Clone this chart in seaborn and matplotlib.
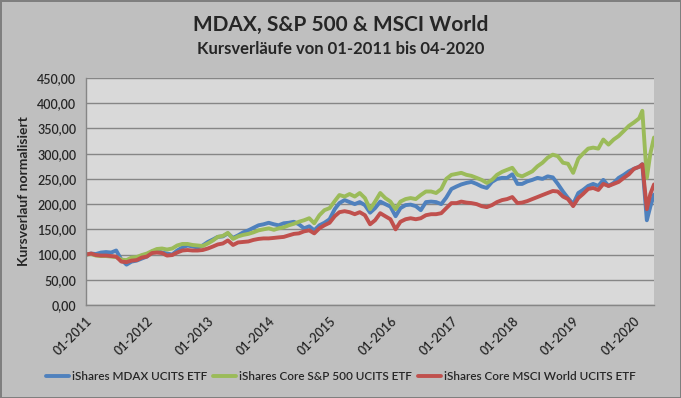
import pandas as pd
import numpy as np
import matplotlib
matplotlib.use("Agg")
import matplotlib.pyplot as plt
import matplotlib.dates as mdates
import seaborn as sns

# Datenpunkte: Monatsanfang 01-2011 .. 02-2020, danach Corona-Crash
monate = list(pd.date_range("2011-01-01", "2020-02-01", freq="MS"))
extra = pd.to_datetime(["2020-02-20", "2020-03-18", "2020-04-08", "2020-04-30"])
datum = monate + list(extra)

mdax = [
    100, 102, 101, 104, 105, 104, 108, 90, 80, 86, 88, 92,
    96, 106, 108, 104, 102, 100, 108, 114, 118, 116, 114, 118,
    125, 130, 135, 136, 142, 133, 138, 144, 148, 153, 158, 160,
    163, 160, 158, 162, 163, 165, 160, 152, 156, 148, 158, 163,
    170, 190, 202, 208, 204, 200, 204, 198, 183, 192, 205, 200,
    195, 176, 192, 198, 199, 196, 188, 204, 205, 204, 200, 213,
    230, 235, 239, 242, 244, 240, 235, 232, 244, 250, 252, 252,
    259, 240, 240, 245, 248, 252, 250, 255, 253, 240, 225, 212,
    200, 222, 228, 236, 240, 236, 248, 236, 242, 252, 258, 265,
    270, 274, 279, 168, 195, 219,
]
sp500 = [
    100, 101, 98, 97, 97, 96, 95, 90, 89, 94, 95, 99,
    102, 107, 111, 112, 110, 112, 118, 121, 121, 119, 118, 117,
    122, 128, 135, 137, 143, 131, 136, 139, 141, 144, 148, 150,
    152, 149, 152, 154, 158, 161, 165, 168, 172, 162, 178, 188,
    192, 206, 218, 215, 220, 215, 222, 212, 190, 205, 222, 212,
    205, 190, 205, 210, 212, 210, 218, 225, 225, 222, 230, 250,
    258, 260, 262, 258, 256, 252, 248, 242, 248, 258, 264, 268,
    272, 258, 255, 260, 265, 275, 282, 292, 298, 295, 282, 280,
    262, 290, 300, 310, 312, 310, 328, 318, 328, 335, 345, 355,
    362, 370, 385, 252, 300, 332,
]
msci_world = [
    100, 102, 99, 98, 98, 97, 96, 86, 85, 88, 89, 94,
    96, 103, 104, 103, 98, 99, 104, 108, 109, 108, 108, 109,
    112, 116, 120, 122, 128, 119, 124, 125, 126, 129, 131, 132,
    132, 133, 134, 135, 138, 141, 142, 146, 148, 142, 152, 158,
    163, 176, 184, 186, 184, 180, 184, 178, 160, 168, 182, 176,
    170, 150, 165, 170, 172, 170, 172, 178, 180, 180, 182, 192,
    202, 202, 205, 203, 202, 200, 196, 194, 198, 204, 208, 210,
    214, 202, 203, 206, 210, 214, 218, 222, 226, 225, 215, 210,
    196, 212, 220, 230, 232, 228, 240, 236, 240, 244, 252, 259,
    270, 274, 279, 190, 220, 239,
]

namen = ["iShares MDAX UCITS ETF", "iShares Core S&P 500 UCITS ETF",
         "iShares Core MSCI World UCITS ETF"]
farben = ["#4F81BD", "#9BBB59", "#C0504D"]

df = pd.concat([
    pd.DataFrame({"datum": datum, "wert": werte, "etf": name})
    for name, werte in zip(namen, [mdax, sp500, msci_world])
])

sns.set_style("white")
plt.rcParams["font.family"] = ["Lato", "DejaVu Sans"]

fig = plt.figure(figsize=(6.81, 3.98), dpi=100)
fig.patch.set_facecolor("#BFBFBF")
fig.patch.set_edgecolor("#7F7F7F")
fig.patch.set_linewidth(2)
ax = fig.add_axes([86 / 681, 1 - 305 / 398, (654 - 86) / 681, (305 - 78) / 398])
ax.set_facecolor("#D9D9D9")

sns.lineplot(data=df, x="datum", y="wert", hue="etf", hue_order=namen,
             palette=farben, linewidth=2.8, ax=ax, legend=False)

ax.set_xlim(pd.Timestamp("2011-01-01"), pd.Timestamp("2020-04-30"))
ax.set_ylim(0, 450)
ax.set_yticks(np.arange(0, 451, 50))
ax.set_yticklabels([f"{v:.2f}".replace(".", ",") for v in np.arange(0, 451, 50)],
                   fontsize=9, fontweight="semibold")
ax.yaxis.grid(True, color="#868686", linewidth=1)
ax.set_axisbelow(True)

ax.xaxis.set_major_locator(mdates.YearLocator(1, month=1, day=1))
ax.xaxis.set_major_formatter(mdates.DateFormatter("%m-%Y"))
plt.setp(ax.get_xticklabels(), rotation=45, ha="right", rotation_mode="anchor",
         fontsize=9, fontweight="semibold")
ax.tick_params(axis="both", direction="out", length=4, color="#868686", pad=3)

for s in ["top", "right"]:
    ax.spines[s].set_visible(False)
for s in ["left", "bottom"]:
    ax.spines[s].set_color("#868686")
    ax.spines[s].set_linewidth(1)

ax.set_xlabel("")
ax.set_ylabel("Kursverlauf normalisiert", fontsize=10, fontweight="bold", labelpad=5)

fig.text(0.5, 1 - 25 / 398, "MDAX, S&P 500 & MSCI World", ha="center", va="center",
         fontsize=15, fontweight="bold")
fig.text(0.5, 1 - 49 / 398, "Kursverläufe von 01-2011 bis 04-2020", ha="center",
         va="center", fontsize=12, fontweight="bold")

handles = [plt.Line2D([], [], color=c, linewidth=2.8) for c in farben]
fig.legend(handles, namen, loc="center", bbox_to_anchor=(0.5, 1 - 377 / 398),
           ncol=3, frameon=False, handlelength=2.0, handletextpad=0.2,
           columnspacing=0.5, prop={"size": 8.5, "weight": "semibold"})

fig.savefig("out.png", dpi=100, facecolor=fig.get_facecolor(),
            edgecolor=fig.get_edgecolor())
